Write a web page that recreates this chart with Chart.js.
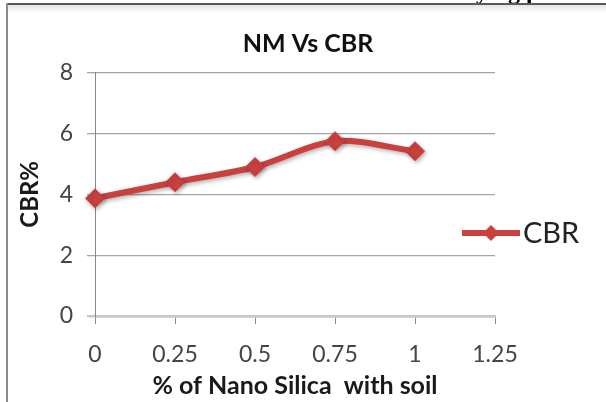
<!DOCTYPE html>
<html>
<head>
<meta charset="utf-8">
<script src="https://cdn.jsdelivr.net/npm/chart.js@4.4.0/dist/chart.umd.min.js"></script>
<style>
  html, body { margin: 0; padding: 0; background: #fff; }
  #wrap { position: relative; width: 606px; height: 402px; overflow: hidden; background: #fff; }
  #wrap canvas { position: absolute; left: 0; top: 0; }
  #pageText { position: absolute; left: 0; top: 0; right: 0; height: 3px; overflow: hidden; }
  #pageText span { position: absolute; left: 476px; top: -21px; font: bold 24px/24px "Liberation Serif", serif; color: #000; white-space: nowrap; }
  #topRule { position: absolute; left: 6px; right: 0; top: 3px; height: 2px; background: #5a5a5a; }
  #topShade { position: absolute; left: 8px; right: 0; top: 5px; height: 8px; background: linear-gradient(#e4e4e4, rgba(255,255,255,0)); }
  #leftRule { position: absolute; left: 6px; top: 3px; bottom: 0; width: 2px; background: #8c8c8c; }
</style>
</head>
<body>
<div id="wrap">
  <canvas id="chart" width="606" height="402"></canvas>
  <div id="pageText"><span>ying p</span></div>
  <div id="topRule"></div>
  <div id="topShade"></div>
  <div id="leftRule"></div>
</div>
<script>
// Nano silica content (%) and measured CBR (%)
const nanoSilica = [0, 0.25, 0.5, 0.75, 1];
const cbrValues = [3.87, 4.4, 4.9, 5.75, 5.42];
const xTickValues = [0, 0.25, 0.5, 0.75, 1, 1.25];
const yTickValues = [0, 2, 4, 6, 8];
const seriesName = 'CBR';
const chartTitle = 'NM Vs CBR';
const xAxisTitle = '% of Nano Silica  with soil';
const yAxisTitle = 'CBR%';

const lineColor = '#c9403e';
const FONT = 'Lato, "Noto Sans", sans-serif';

const points = nanoSilica.map((x, i) => ({ x: x, y: cbrValues[i] }));

// Title, side legend and soft shadow under the series
const decor = {
  id: 'decor',
  beforeDatasetsDraw(chart) {
    const ctx = chart.ctx;
    ctx.save();
    ctx.shadowColor = 'rgba(0,0,0,0.3)';
    ctx.shadowBlur = 4;
    ctx.shadowOffsetX = 1.5;
    ctx.shadowOffsetY = 2;
  },
  afterDatasetsDraw(chart) {
    chart.ctx.restore();
  },
  afterDraw(chart) {
    const ctx = chart.ctx;
    const ds = chart.data.datasets[0];
    ctx.save();
    // chart title
    ctx.fillStyle = '#111';
    ctx.font = 'bold 25px ' + FONT;
    ctx.textAlign = 'center';
    ctx.textBaseline = 'middle';
    ctx.fillText(chartTitle, 308, 44);

    // legend entry: line with diamond marker, then the series name
    const ly = 233;
    ctx.strokeStyle = ds.borderColor;
    ctx.lineWidth = ds.borderWidth;
    ctx.lineCap = 'butt';
    ctx.beginPath();
    ctx.moveTo(462, ly);
    ctx.lineTo(520, ly);
    ctx.stroke();
    ctx.fillStyle = ds.pointBackgroundColor;
    ctx.beginPath();
    ctx.moveTo(491, ly - 8);
    ctx.lineTo(499, ly);
    ctx.lineTo(491, ly + 8);
    ctx.lineTo(483, ly);
    ctx.closePath();
    ctx.fill();
    ctx.fillStyle = '#222';
    ctx.font = '29px ' + FONT;
    ctx.textAlign = 'left';
    ctx.fillText(ds.label, 523, ly + 1);
    ctx.restore();
  }
};

new Chart(document.getElementById('chart'), {
  type: 'scatter',
  data: {
    datasets: [{
      label: seriesName,
      data: points,
      showLine: true,
      tension: 0.3,
      borderColor: lineColor,
      borderWidth: 6,
      pointStyle: 'rectRot',
      pointRadius: 9.5,
      pointBorderWidth: 1,
      pointBackgroundColor: lineColor,
      pointBorderColor: lineColor,
      clip: false
    }]
  },
  options: {
    responsive: false,
    animation: false,
    events: [],
    layout: { padding: { top: 72.7, right: 111, bottom: 0, left: 0 } },
    plugins: {
      legend: { display: false },
      title: { display: false },
      tooltip: { enabled: false }
    },
    scales: {
      x: {
        type: 'linear',
        min: 0,
        max: 1.25,
        afterBuildTicks: s => { s.ticks = xTickValues.map(v => ({ value: v })); },
        afterFit: s => { s.height = 86; },
        ticks: {
          callback: v => String(v),
          font: { family: FONT, size: 23 },
          color: '#444',
          padding: 17,
          maxRotation: 0,
          autoSkip: false
        },
        grid: { drawOnChartArea: false, drawTicks: true, tickLength: 8, color: '#8a8a8a', lineWidth: 1 },
        border: { display: true, color: '#c8c8c8', width: 2.5 },
        title: {
          display: true,
          text: xAxisTitle,
          font: { family: FONT, size: 25, weight: 'bold' },
          color: '#1a1a1a',
          padding: { top: 0, bottom: 1 }
        }
      },
      y: {
        type: 'linear',
        min: 0,
        max: 8,
        afterBuildTicks: s => { s.ticks = yTickValues.map(v => ({ value: v })); },
        afterFit: s => { s.width = 95; },
        ticks: {
          font: { family: FONT, size: 23 },
          color: '#444',
          padding: 14
        },
        grid: {
          drawTicks: true,
          tickLength: 8,
          color: c => (c.tick && c.tick.value === 0 ? '#c8c8c8' : '#a6a6a6'),
          lineWidth: c => (c.tick && c.tick.value === 0 ? 2.5 : 1.3)
        },
        border: { display: true, color: '#888', width: 1 },
        title: {
          display: true,
          text: yAxisTitle,
          font: { family: FONT, size: 24, weight: 'bold' },
          color: '#1a1a1a',
          padding: { top: 15.5, bottom: 0 }
        }
      }
    }
  },
  plugins: [decor]
});
</script>
</body>
</html>
